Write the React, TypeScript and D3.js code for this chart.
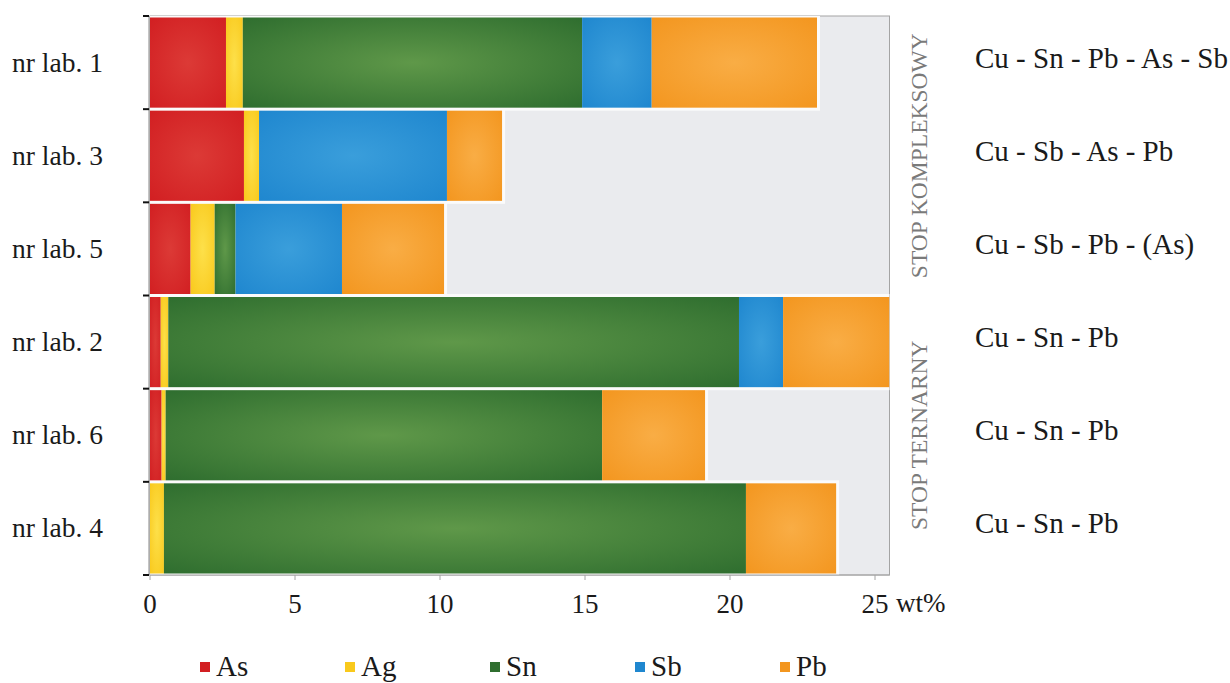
import React from "react";
import * as d3 from "d3";

const labs = ["nr lab. 1", "nr lab. 3", "nr lab. 5", "nr lab. 2", "nr lab. 6", "nr lab. 4"];
const alloyLabels = ["Cu - Sn - Pb - As - Sb", "Cu - Sb - As - Pb", "Cu - Sb - Pb - (As)", "Cu - Sn - Pb", "Cu - Sn - Pb", "Cu - Sn - Pb"];
const elements = ["As", "Ag", "Sn", "Sb", "Pb"];
const As = [2.62, 3.24, 1.4, 0.37, 0.4, 0];
const Ag = [0.58, 0.52, 0.83, 0.26, 0.14, 0.48];
const Sn = [11.7, 0, 0.72, 19.68, 15.05, 20.07];
const Sb = [2.4, 6.48, 3.67, 1.52, 0, 0];
const Pb = [5.7, 1.9, 3.52, 3.67, 3.55, 3.11];
const xTicks = [0, 5, 10, 15, 20, 25];
const groups = [
  { name: "STOP KOMPLEKSOWY", from: "nr lab. 1", to: "nr lab. 5" },
  { name: "STOP TERNARNY", from: "nr lab. 2", to: "nr lab. 4" },
];

const colors: Record<string, [string, string]> = {
  As: ["#dc3a36", "#d21f22"],
  Ag: ["#fde04a", "#f9c91c"],
  Sn: ["#5f9849", "#2f6e2f"],
  Sb: ["#3a9edb", "#1f87cf"],
  Pb: ["#f9ad45", "#f3961f"],
};

const W = 1230, H = 683;
const left = 150, right = 889.5, top = 16, bottom = 575;
const FONT = '"Liberation Serif", "Times New Roman", Tinos, "DejaVu Serif", serif';

export default function App() {
  const x = d3.scaleLinear().domain([0, 25.5]).range([left, right]);
  const y = d3.scaleBand<string>().domain(labs).range([top, bottom]).padding(0);
  const rows = labs.map((lab, i) => ({ lab, As: As[i], Ag: Ag[i], Sn: Sn[i], Sb: Sb[i], Pb: Pb[i] }));
  const stack = d3.stack<any>().keys(elements)(rows);
  const legendX = d3.scalePoint<string>().domain(elements).range([200, 780]);
  const bw = y.bandwidth();
  const ts = { fontFamily: FONT };

  return (
    <svg width={W} height={H} style={{ position: "absolute", left: 0, top: 0, background: "#fff", fontFamily: FONT }}>
      <defs>
        {elements.map((k) => (
          <radialGradient key={k} id={"g" + k} cx="0.5" cy="0.5" r="0.7">
            <stop offset="0" stopColor={colors[k][0]} />
            <stop offset="1" stopColor={colors[k][1]} />
          </radialGradient>
        ))}
        <clipPath id="plotClip">
          <rect x={left} y={top} width={right - left} height={bottom - top} />
        </clipPath>
      </defs>

      <rect x={left} y={top} width={right - left} height={bottom - top} fill="#eaebee" stroke="#a4a4a4" strokeWidth={1} />

      <g clipPath="url(#plotClip)">
        {labs.map((lab, i) => {
          const total = As[i] + Ag[i] + Sn[i] + Sb[i] + Pb[i];
          return (
            <rect key={"h" + lab} x={x(0)} y={(y(lab) as number) - 1.5} width={x(total) - x(0) + 3} height={bw + 3} fill="#fbfbfb" />
          );
        })}
        {stack.map((s) =>
          s.map((d, i) => {
            const w = x(d[1]) - x(d[0]);
            if (w <= 0) return null;
            return (
              <rect
                key={s.key + i}
                x={x(d[0])}
                y={(y(labs[i]) as number) + 1.5}
                width={w}
                height={bw - 3}
                fill={`url(#g${s.key})`}
              />
            );
          })
        )}
      </g>

      <line x1={left - 1} x2={left - 1} y1={top} y2={bottom} stroke="#888" strokeWidth={1} />
      {[...labs.map((l) => y(l) as number), bottom].map((v, i) => (
        <line key={"yt" + i} x1={left - 7} x2={left - 1} y1={v} y2={v} stroke="#111" strokeWidth={2} />
      ))}

      <line x1={left} x2={right} y1={bottom} y2={bottom} stroke="#a4a4a4" strokeWidth={1} />
      {xTicks.map((t) => (
        <g key={"xt" + t}>
          <line x1={x(t)} x2={x(t)} y1={bottom} y2={bottom + 5} stroke="#a4a4a4" strokeWidth={1} />
          <text x={x(t)} y={613} fontSize={27} textAnchor="middle" fill="#1a1a1a" style={ts}>
            {t}
          </text>
        </g>
      ))}
      <text x={x(25) + 21} y={612} fontSize={27} textAnchor="start" fill="#1a1a1a" style={ts}>
        wt%
      </text>

      {labs.map((lab) => (
        <text key={"yl" + lab} x={12} y={(y(lab) as number) + bw / 2 + 9} fontSize={27.5} fill="#1a1a1a" style={ts}>
          {lab}
        </text>
      ))}
      {labs.map((lab, i) => (
        <text key={"al" + i} x={975} y={(y(lab) as number) + bw / 2 + 5} fontSize={29} fill="#1a1a1a" style={ts}>
          {alloyLabels[i]}
        </text>
      ))}

      {groups.map((g) => {
        const cy = ((y(g.from) as number) + (y(g.to) as number) + bw) / 2;
        return (
          <text
            key={g.name}
            transform={`translate(927,${cy}) rotate(-90)`}
            fontSize={23.5}
            textAnchor="middle"
            fill="#7a7a7a"
            style={ts}
          >
            {g.name}
          </text>
        );
      })}

      {elements.map((k) => (
        <g key={"lg" + k}>
          <rect x={legendX(k) as number} y={662} width={10} height={10} fill={colors[k][1]} />
          <text x={(legendX(k) as number) + 16} y={676} fontSize={29} fill="#1a1a1a" style={ts}>
            {k}
          </text>
        </g>
      ))}
    </svg>
  );
}
